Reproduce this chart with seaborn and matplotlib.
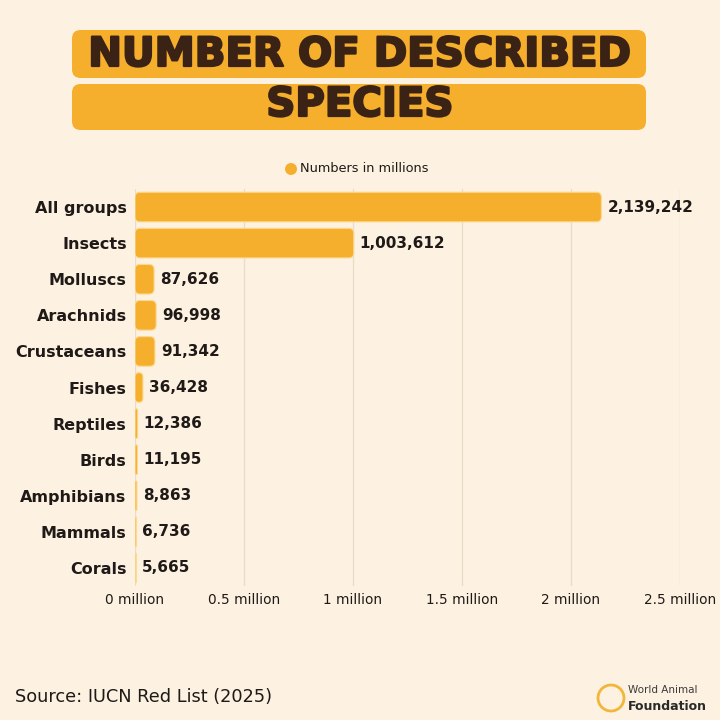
import matplotlib
matplotlib.use("Agg")
import matplotlib.pyplot as plt
import matplotlib.patheffects as pe
import seaborn as sns
import pandas as pd
import numpy as np
from matplotlib.patches import FancyBboxPatch, Circle

categories = ["All groups", "Insects", "Molluscs", "Arachnids", "Crustaceans", "Fishes",
              "Reptiles", "Birds", "Amphibians", "Mammals", "Corals"]
species = [2139242, 1003612, 87626, 96998, 91342, 36428, 12386, 11195, 8863, 6736, 5665]
tick_values = [0, 500000, 1000000, 1500000, 2000000, 2500000]
tick_labels = ["0 million", "0.5 million", "1 million", "1.5 million", "2 million", "2.5 million"]

BG = "#FDF2E1"
BAR = "#F6AE2D"
DARK = "#1F1A17"
TITLE_DARK = "#3A2214"

sns.set_theme(style="white")
plt.rcParams["font.family"] = ["DejaVu Sans"]

df = pd.DataFrame({"group": categories, "species": species})

fig = plt.figure(figsize=(7.2, 7.2), dpi=100, facecolor=BG)
ax = fig.add_axes([135/720, 1 - 586/720, (680 - 135)/720, (586 - 189)/720])
ax.set_facecolor(BG)

sns.barplot(data=df, y="group", x="species", color=BAR, width=0.82, ax=ax,
            saturation=1, orient="h", zorder=3)

ax.set_xlim(0, 2500000)
ax.set_ylim(10.5, -0.5)

# rounded bars
px_per_x = (680 - 135) / 2500000
px_per_y = (586 - 189) / 11
r_px = 5.0
r_x = r_px / px_per_x
aspect = (r_px / px_per_y) / r_x
for p in list(ax.patches):
    x0, y0 = p.get_x(), p.get_y()
    w, h = p.get_width(), p.get_height()
    rr = min(r_x, w / 2)
    fb = FancyBboxPatch((x0, y0), w, h,
                        boxstyle=f"round,pad=0,rounding_size={rr}",
                        mutation_aspect=aspect if rr > 0 else 1,
                        facecolor=BAR, edgecolor="#FCD98F", linewidth=0.8, zorder=3)
    p.remove()
    ax.add_patch(fb)

# gridlines
for t in tick_values:
    ax.axvline(t, color="#E9DCCB", linewidth=1, zorder=1)

for i, v in enumerate(species):
    ax.text(v + 6 / px_per_x, i, f"{v:,}", va="center", ha="left",
            fontsize=11, fontweight="bold", color=DARK, zorder=4)

ax.set_xticks(tick_values)
ax.set_xticklabels(tick_labels, fontsize=9.8, color=DARK)
ax.tick_params(axis="x", length=0, pad=5)
ax.tick_params(axis="y", length=0, pad=6)
for lbl in ax.get_yticklabels():
    lbl.set_fontsize(11.5)
    lbl.set_fontweight("bold")
    lbl.set_color(DARK)
ax.set_xlabel("")
ax.set_ylabel("")
for s in ax.spines.values():
    s.set_visible(False)

# title boxes
for (y0, y1) in [(30, 78), (84, 130)]:
    box = FancyBboxPatch((72/720, 1 - y1/720), (646 - 72)/720, (y1 - y0)/720,
                         boxstyle="round,pad=0,rounding_size=0.012",
                         transform=fig.transFigure, facecolor=BAR, edgecolor="none")
    fig.patches.append(box)
stroke = [pe.withStroke(linewidth=1.6, foreground=TITLE_DARK)]
fig.text(360/720, 1 - 55/720, "NUMBER OF DESCRIBED", ha="center", va="center",
         fontsize=29, fontweight="heavy", color=TITLE_DARK, path_effects=stroke)
fig.text(360/720, 1 - 105/720, "SPECIES", ha="center", va="center",
         fontsize=29, fontweight="heavy", color=TITLE_DARK, path_effects=stroke)

# legend
fig.patches.append(Circle((291/720, 1 - 169/720), 6/720, transform=fig.transFigure,
                          facecolor=BAR, edgecolor="none"))
fig.text(300/720, 1 - 169/720, "Numbers in millions", ha="left", va="center",
         fontsize=9.3, color=DARK)

# footer
fig.text(15/720, 1 - 697/720, "Source: IUCN Red List (2025)", ha="left", va="center",
         fontsize=12.8, color=DARK)
fig.patches.append(Circle((611/720, 1 - 698/720), 13/720, transform=fig.transFigure,
                          facecolor="none", edgecolor="#F2B63A", linewidth=2))
fig.text(628/720, 1 - 690/720, "World Animal", ha="left", va="center",
         fontsize=7.5, color="#3A3A3A")
fig.text(628/720, 1 - 706/720, "Foundation", ha="left", va="center",
         fontsize=9, fontweight="bold", color="#2A2A2A")

fig.savefig("out.png", dpi=100, facecolor=BG)
